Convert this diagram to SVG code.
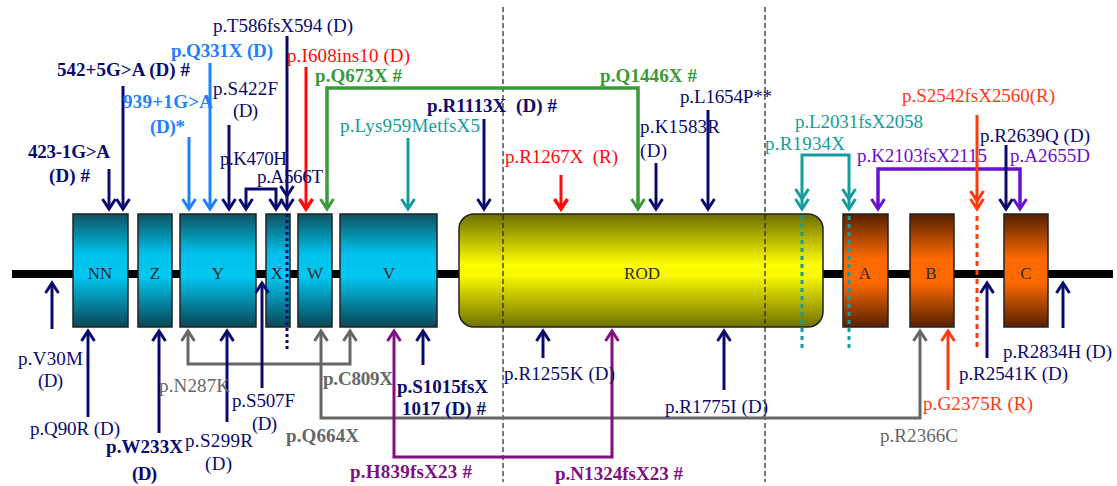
<svg xmlns="http://www.w3.org/2000/svg" width="1117" height="486" viewBox="0 0 1117 486">
<style>
text{font-family:"Liberation Serif","Times New Roman",serif;font-size:19px}
.b{font-weight:bold}
.box text,.lbl{font-size:17px;fill:#2a2a2a;text-anchor:middle}
.navy{fill:#0a0a6e}.blue{fill:#1e7fff}.red{fill:#ff0a0a}.ored{fill:#ff3a10}.green{fill:#3a9a3a}.teal{fill:#169c9c}.violet{fill:#6a10d0}.purple{fill:#80107f}.gray{fill:#666}
.c{fill:none;stroke-width:3}
.cn{stroke:#0a0a6e;marker-end:url(#a-navy)}
.cb{stroke:#1e7fff;marker-end:url(#a-blue)}
.cr{stroke:#ff0a0a;marker-end:url(#a-red)}
.co{stroke:#ff3a10;marker-end:url(#a-ored)}
.cg{stroke:#3a9a3a;stroke-width:3.5;marker-start:url(#a-green);marker-end:url(#a-green)}
.ct{stroke:#169c9c;marker-end:url(#a-teal)}
.cv{stroke:#6a10d0;stroke-width:3.5;marker-start:url(#a-violet);marker-end:url(#a-violet)}
.cp{stroke:#80107f;stroke-width:3;marker-start:url(#a-purple);marker-end:url(#a-purple)}
.cy{stroke:#666;marker-start:url(#a-gray);marker-end:url(#a-gray)}
.bx{stroke:#222;stroke-width:1.5}
</style>
<defs>
<linearGradient id="gc" x1="0" y1="0" x2="0" y2="1"><stop offset="0" stop-color="#0d5262"/><stop offset="0.35" stop-color="#00c0ea"/><stop offset="0.55" stop-color="#00c8f2"/><stop offset="1" stop-color="#0a4656"/></linearGradient>
<linearGradient id="go" x1="0" y1="0" x2="0" y2="1"><stop offset="0" stop-color="#552000"/><stop offset="0.4" stop-color="#ff6a00"/><stop offset="0.6" stop-color="#ff6a00"/><stop offset="1" stop-color="#552000"/></linearGradient>
<linearGradient id="gy" x1="0" y1="0" x2="0" y2="1"><stop offset="0" stop-color="#6e6e00"/><stop offset="0.45" stop-color="#ffff00"/><stop offset="0.55" stop-color="#f8f800"/><stop offset="1" stop-color="#707000"/></linearGradient>
<marker id="a-navy" markerUnits="userSpaceOnUse" orient="auto-start-reverse" overflow="visible" markerWidth="1" markerHeight="1"><path d="M-10,-6.5 L0,0 L-10,6.5" fill="none" stroke="#0a0a6e" stroke-width="3"/></marker>
<marker id="a-blue" markerUnits="userSpaceOnUse" orient="auto-start-reverse" overflow="visible" markerWidth="1" markerHeight="1"><path d="M-10,-6.5 L0,0 L-10,6.5" fill="none" stroke="#1e7fff" stroke-width="3"/></marker>
<marker id="a-red" markerUnits="userSpaceOnUse" orient="auto-start-reverse" overflow="visible" markerWidth="1" markerHeight="1"><path d="M-10,-6.5 L0,0 L-10,6.5" fill="none" stroke="#ff0a0a" stroke-width="3.5"/></marker>
<marker id="a-ored" markerUnits="userSpaceOnUse" orient="auto-start-reverse" overflow="visible" markerWidth="1" markerHeight="1"><path d="M-10,-6.5 L0,0 L-10,6.5" fill="none" stroke="#ff3a10" stroke-width="3"/></marker>
<marker id="a-green" markerUnits="userSpaceOnUse" orient="auto-start-reverse" overflow="visible" markerWidth="1" markerHeight="1"><path d="M-10,-6.5 L0,0 L-10,6.5" fill="none" stroke="#3a9a3a" stroke-width="3"/></marker>
<marker id="a-teal" markerUnits="userSpaceOnUse" orient="auto-start-reverse" overflow="visible" markerWidth="1" markerHeight="1"><path d="M-10,-6.5 L0,0 L-10,6.5" fill="none" stroke="#169c9c" stroke-width="3"/></marker>
<marker id="a-violet" markerUnits="userSpaceOnUse" orient="auto-start-reverse" overflow="visible" markerWidth="1" markerHeight="1"><path d="M-10,-6.5 L0,0 L-10,6.5" fill="none" stroke="#6a10d0" stroke-width="3"/></marker>
<marker id="a-purple" markerUnits="userSpaceOnUse" orient="auto-start-reverse" overflow="visible" markerWidth="1" markerHeight="1"><path d="M-10,-6.5 L0,0 L-10,6.5" fill="none" stroke="#80107f" stroke-width="3"/></marker>
<marker id="a-gray" markerUnits="userSpaceOnUse" orient="auto-start-reverse" overflow="visible" markerWidth="1" markerHeight="1"><path d="M-10,-6.5 L0,0 L-10,6.5" fill="none" stroke="#666" stroke-width="3"/></marker>
<path id="chev" d="M-6.5,-10 L0,0 L6.5,-10" fill="none" stroke-width="3"/>
</defs>

<rect width="1117" height="486" fill="#fff"/>

<!-- backbone -->
<line x1="12" y1="274" x2="1113" y2="274" stroke="#000" stroke-width="8"/>

<!-- domain nodes -->
<g id="NN" class="box"><rect class="bx" x="73" y="214" width="55" height="113" fill="url(#gc)"/><text x="100" y="279">NN</text></g>
<g id="Z" class="box"><rect class="bx" x="138" y="214" width="34" height="113" fill="url(#gc)"/><text x="155" y="279">Z</text></g>
<g id="Y" class="box"><rect class="bx" x="180" y="214" width="76" height="113" fill="url(#gc)"/><text x="218" y="279">Y</text></g>
<g id="X" class="box"><rect class="bx" x="266" y="214" width="24" height="113" fill="url(#gc)"/><text x="277" y="279">X</text></g>
<g id="W" class="box"><rect class="bx" x="298" y="214" width="34" height="113" fill="url(#gc)"/><text x="315" y="279">W</text></g>
<g id="V" class="box"><rect class="bx" x="340" y="214" width="97" height="113" fill="url(#gc)"/><text x="389" y="279">V</text></g>
<g id="ROD" class="box"><rect class="bx" x="459" y="214" width="364" height="113" rx="15" fill="url(#gy)"/><text x="642" y="279">ROD</text></g>
<g id="A" class="box"><rect class="bx" x="843" y="214" width="45" height="113" fill="url(#go)"/><text x="865" y="279">A</text></g>
<g id="B" class="box"><rect class="bx" x="910" y="214" width="44" height="113" fill="url(#go)"/><text x="931" y="279">B</text></g>
<g id="C" class="box"><rect class="bx" x="1004" y="214" width="44" height="113" fill="url(#go)"/><text x="1026" y="279">C</text></g>

<!-- exon-region dashed separators -->
<g id="separators" stroke="#1a1a1a" stroke-width="1.2" stroke-dasharray="5,3">
<line x1="503" y1="7" x2="503" y2="482"/>
<line x1="765" y1="7" x2="765" y2="482"/>
</g>

<!-- connectors -->
<g id="connectors">
<!-- top, pointing down -->
<path class="c cn" d="M109,169 V209"/>
<path class="c cn" d="M123,86 V209"/>
<path class="c cb" d="M189,137 V209" stroke-width="2.5"/>
<path class="c cb" d="M210,63 V209" stroke-width="4.5"/>
<path class="c cn" d="M229,125 V209" stroke-width="3.5"/>
<path class="c cn" d="M246,209 V189 H276 V209" style="marker-start:url(#a-navy)"/>
<path class="c cn" d="M287,36 V209" stroke-width="2.5"/>
<use href="#chev" x="287" y="196" stroke="#0a0a6e"/>
<path class="c" d="M287,214 V352" stroke="#0a0a6e" stroke-dasharray="3,3"/>
<path class="c cr" d="M306,67 V209" stroke-width="4"/>
<path class="c cg" d="M327,209 V88 H638 V209"/>
<path class="c ct" d="M408,138 V209"/>
<path class="c cn" d="M484,119 V209"/>
<path class="c cr" d="M561,175 V209" stroke-width="4.5"/>
<path class="c cn" d="M656,163 V209"/>
<path class="c cn" d="M708,110 V209"/>
<path class="c ct" d="M802,209 V155 H849 V209" stroke-width="3.5" style="marker-start:url(#a-teal)"/>
<use href="#chev" x="802" y="199" stroke="#169c9c"/>
<use href="#chev" x="849" y="199" stroke="#169c9c"/>
<path class="c" d="M802,216 V350" stroke="#169c9c" stroke-width="4" stroke-dasharray="4,4"/>
<path class="c" d="M849,216 V350" stroke="#169c9c" stroke-width="4" stroke-dasharray="4,4"/>
<path class="c cv" d="M878,209 V169 H1020 V209"/>
<path class="c co" d="M977,115 V209" stroke-width="3.5"/>
<use href="#chev" x="977" y="201" stroke="#ff3a10"/>
<path class="c" d="M977,216 V350" stroke="#ff3a10" stroke-width="5" stroke-dasharray="5,4"/>
<path class="c cn" d="M1006,145 V209"/>
<!-- bottom, pointing up -->
<path class="c cn" d="M52,329 V283"/>
<path class="c cn" d="M88,417 V331"/>
<path class="c cn" d="M159,433 V331"/>
<path class="c cy" d="M188,331 V364 H350 V331"/>
<path class="c cn" d="M227,422 V331" stroke-width="3.5"/>
<path class="c cn" d="M262,388 V283"/>
<path class="c cy" d="M321,331 V418 H920 V331"/>
<path class="c cp" d="M394,331 V457 H612 V331"/>
<path class="c cn" d="M423,365 V331"/>
<path class="c cn" d="M543,358 V331"/>
<path class="c cn" d="M724,390 V331"/>
<path class="c co" d="M948,390 V331"/>
<path class="c cn" d="M987,358 V283"/>
<path class="c cn" d="M1063,328 V283"/>
</g>

<!-- mutation labels -->
<g id="labels">
<text class="navy" x="213" y="32" textLength="140">p.T586fsX594 (D)</text>
<text class="blue b" x="171" y="57" textLength="102">p.Q331X (D)</text>
<text class="navy b" x="57" y="76" textLength="133">542+5G&gt;A (D) #</text>
<text class="blue b" x="123" y="108" textLength="90">939+1G&gt;A</text>
<text class="blue b" x="150" y="133" textLength="35">(D)*</text>
<text class="navy" x="213" y="95" textLength="65">p.S422F</text>
<text class="navy" x="233" y="117" textLength="25">(D)</text>
<text class="navy b" x="28" y="158" textLength="82">423-1G&gt;A</text>
<text class="navy b" x="49" y="182" textLength="41">(D) #</text>
<text class="navy" x="220" y="165" textLength="67">p.K470H</text>
<text class="navy" x="257" y="183" textLength="66">p.A566T</text>
<text class="red" x="287" y="62" textLength="123">p.I608ins10 (D)</text>
<text class="green b" x="315" y="82" textLength="87">p.Q673X #</text>
<text class="green b" x="600" y="82" textLength="97">p.Q1446X #</text>
<text class="teal" x="340" y="132" textLength="140">p.Lys959MetfsX5</text>
<text class="navy b" x="427" y="112" textLength="130" xml:space="preserve">p.R1113X  (D) #</text>
<text class="red" x="505" y="163" textLength="113" xml:space="preserve">p.R1267X  (R)</text>
<text class="navy" x="640" y="133" textLength="80">p.K1583R</text>
<text class="navy" x="640" y="157" textLength="27">(D)</text>
<text class="navy" x="680" y="103" textLength="92">p.L1654P**</text>
<text class="teal" x="795" y="128" textLength="128">p.L2031fsX2058</text>
<text class="teal" x="765" y="150" textLength="80">p.R1934X</text>
<text class="ored" x="902" y="102" textLength="153">p.S2542fsX2560(R)</text>
<text class="navy" x="980" y="142" textLength="110">p.R2639Q (D)</text>
<text class="violet" x="857" y="162" textLength="130">p.K2103fsX2115</text>
<text class="violet" x="1010" y="162" textLength="80">p.A2655D</text>

<text class="navy" x="18" y="365" textLength="65">p.V30M</text>
<text class="navy" x="38" y="387" textLength="25">(D)</text>
<text class="navy" x="30" y="435" textLength="90">p.Q90R (D)</text>
<text class="navy b" x="106" y="453" textLength="77">p.W233X</text>
<text class="navy b" x="132" y="480" textLength="25">(D)</text>
<text class="gray" x="159" y="392" textLength="71">p.N287K</text>
<text class="navy" x="185" y="447" textLength="68">p.S299R</text>
<text class="navy" x="205" y="470" textLength="27">(D)</text>
<text class="navy" x="232" y="407" textLength="63">p.S507F</text>
<text class="navy" x="252" y="430" textLength="25">(D)</text>
<text class="gray b" x="323" y="385" textLength="70">p.C809X</text>
<text class="gray b" x="286" y="442" textLength="73">p.Q664X</text>
<text class="navy b" x="397" y="393" textLength="91">p.S1015fsX</text>
<text class="navy b" x="402" y="415" textLength="84">1017 (D) #</text>
<text class="purple b" x="350" y="478" textLength="122">p.H839fsX23 #</text>
<text class="purple b" x="555" y="480" textLength="128">p.N1324fsX23 #</text>
<text class="navy" x="504" y="380" textLength="111">p.R1255K (D)</text>
<text class="navy" x="665" y="413" textLength="103">p.R1775I (D)</text>
<text class="gray" x="880" y="442" textLength="78">p.R2366C</text>
<text class="ored" x="923" y="410" textLength="110">p.G2375R (R)</text>
<text class="navy" x="959" y="380" textLength="109">p.R2541K (D)</text>
<text class="navy" x="1003" y="358" textLength="109">p.R2834H (D)</text>
</g>
</svg>
